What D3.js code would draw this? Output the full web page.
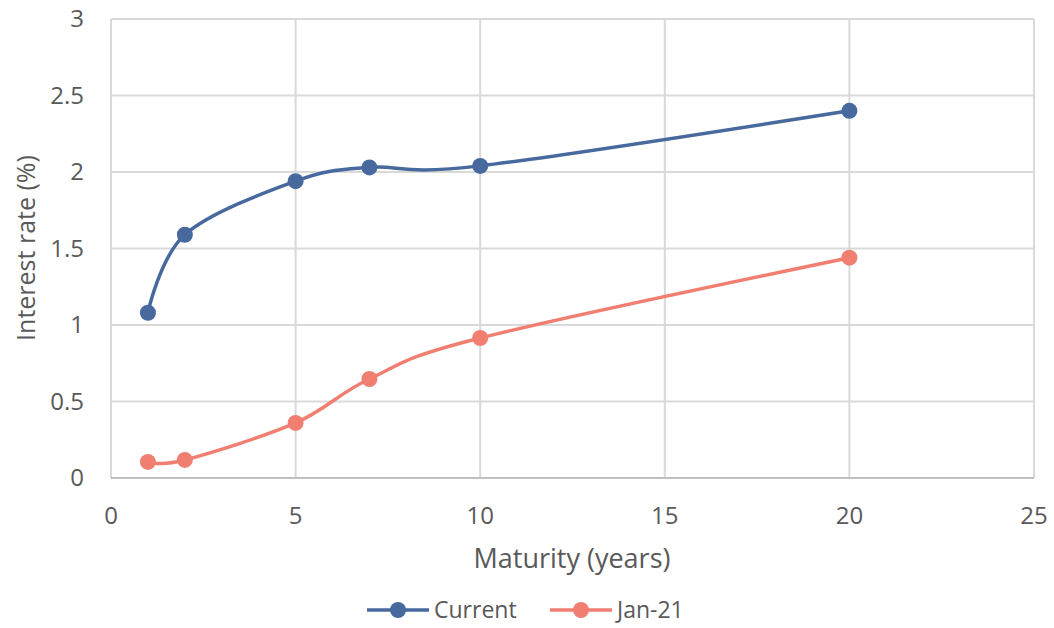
<!DOCTYPE html>
<html><head><meta charset="utf-8">
<script src="https://cdn.jsdelivr.net/npm/d3@7"></script>
<style>body{margin:0;background:#fff}svg{display:block}text{font-family:"Open Sans",sans-serif;fill:#595959}</style>
</head><body><svg id="c" width="1054" height="628"></svg>
<script>
const maturities = [1, 2, 5, 7, 10, 20];
const currentRates = [1.08, 1.59, 1.94, 2.03, 2.04, 2.40];
const jan21Rates = [0.105, 0.118, 0.36, 0.647, 0.915, 1.44];
const seriesNames = ["Current", "Jan-21"];
const seriesColors = ["#47699E", "#F07F72"];
const xTicks = [0, 5, 10, 15, 20, 25];
const yTicks = [0, 0.5, 1, 1.5, 2, 2.5, 3];

const svg = d3.select("#c");
const L = 111, R = 1034, T = 19, B = 478;
const x = d3.scaleLinear().domain([0, 25]).range([L, R]);
const y = d3.scaleLinear().domain([0, 3]).range([B, T]);

// gridlines
svg.append("g").selectAll("line").data(yTicks).join("line")
  .attr("x1", L).attr("x2", R).attr("y1", d => y(d)).attr("y2", d => y(d))
  .attr("stroke", "#D9D9D9").attr("stroke-width", 2);
svg.append("g").selectAll("line").data(xTicks).join("line")
  .attr("y1", T).attr("y2", B).attr("x1", d => x(d)).attr("x2", d => x(d))
  .attr("stroke", "#D9D9D9").attr("stroke-width", 2);
svg.append("line").attr("x1", L).attr("x2", R).attr("y1", y(0)).attr("y2", y(0))
  .attr("stroke", "#BFBFBF").attr("stroke-width", 2);

// tick labels
svg.append("g").selectAll("text").data(yTicks).join("text")
  .attr("x", 84).attr("y", d => y(d)).attr("dy", "0.35em")
  .attr("text-anchor", "end").attr("font-size", 24).text(d => d);
svg.append("g").selectAll("text").data(xTicks).join("text")
  .attr("x", d => x(d)).attr("y", 524)
  .attr("text-anchor", "middle").attr("font-size", 24).text(d => d);

// axis titles
svg.append("text").attr("x", 572).attr("y", 568)
  .attr("text-anchor", "middle").attr("font-size", 27).text("Maturity (years)");
svg.append("text").attr("transform", `translate(35,248) rotate(-90)`)
  .attr("text-anchor", "middle").attr("font-size", 25).text("Interest rate (%)");

const series = [currentRates, jan21Rates];
const line = d3.line().x(d => x(d[0])).y(d => y(d[1])).curve(d3.curveCatmullRom.alpha(0));
series.forEach((vals, i) => {
  const pts = maturities.map((m, j) => [m, vals[j]]);
  svg.append("path").attr("d", line(pts)).attr("fill", "none")
    .attr("stroke", seriesColors[i]).attr("stroke-width", 3.5);
  svg.append("g").selectAll("circle").data(pts).join("circle")
    .attr("cx", d => x(d[0])).attr("cy", d => y(d[1])).attr("r", 8)
    .attr("fill", seriesColors[i]);
});

// legend
const legX = [367, 550];
seriesNames.forEach((n, i) => {
  const g = svg.append("g").attr("transform", `translate(${legX[i]},610)`);
  g.append("line").attr("x1", 0).attr("x2", 62).attr("stroke", seriesColors[i]).attr("stroke-width", 3.5);
  g.append("circle").attr("cx", 31).attr("r", 8).attr("fill", seriesColors[i]);
  g.append("text").attr("x", 67).attr("dy", "0.36em").attr("font-size", 23).text(n);
});
</script></body></html>
